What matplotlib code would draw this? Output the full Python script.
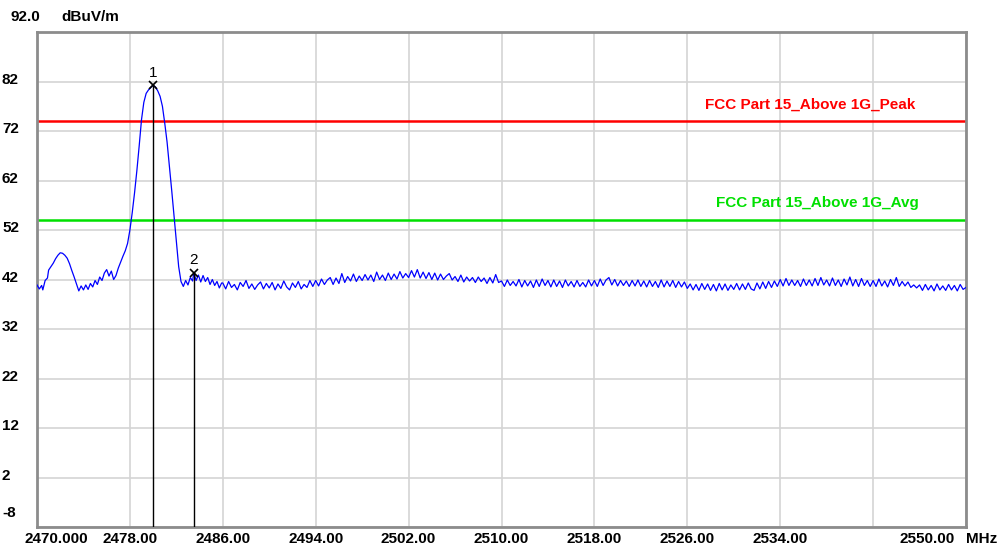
import numpy as np
import matplotlib
matplotlib.use("Agg")
import matplotlib.pyplot as plt
from matplotlib import transforms

plt.rcParams['font.family'] = ['Liberation Sans', 'DejaVu Sans']

# trace near the carrier (MHz, dBuV/m)
head_freq = [2470.0, 2470.2, 2470.4, 2470.5, 2470.7, 2470.9, 2471.0, 2471.2, 2471.4, 2471.6,
             2471.8, 2472.0, 2472.2, 2472.4, 2472.6, 2472.8, 2473.0, 2473.2, 2473.4, 2473.6,
             2473.8, 2474.0, 2474.2, 2474.4, 2474.6, 2474.8, 2475.0, 2475.2, 2475.4, 2475.6,
             2475.8, 2476.0, 2476.2, 2476.4, 2476.6, 2476.8, 2477.0, 2477.2, 2477.4, 2477.6,
             2477.8, 2478.0, 2478.2, 2478.4, 2478.6, 2478.8, 2479.0, 2479.2, 2479.4, 2479.6,
             2479.8, 2480.0, 2480.2, 2480.4, 2480.6, 2480.8, 2481.0, 2481.2, 2481.4, 2481.6,
             2481.8, 2482.0, 2482.2, 2482.4, 2482.6, 2482.8, 2483.0, 2483.2, 2483.4, 2483.5,
             2483.7, 2483.9, 2484.1, 2484.3, 2484.5, 2484.7, 2484.9, 2485.1, 2485.3, 2485.5,
             2485.7, 2485.9]
head_level = [40.9, 40.1, 40.8, 39.9, 41.8, 42.3, 43.9, 44.6, 45.3, 46.2,
              46.9, 47.4, 47.3, 46.9, 46.3, 45.2, 43.8, 42.5, 41.1, 39.7,
              40.7, 39.9, 40.9, 40.0, 41.2, 40.5, 41.8, 41.0, 42.5, 41.8,
              43.3, 44.0, 42.7, 43.7, 42.0, 42.8, 44.3, 45.5, 46.7, 47.8,
              49.3, 52.0, 55.5, 59.5, 64.0, 69.0, 74.3, 77.8, 79.6, 80.3,
              80.8, 81.2, 80.9, 80.1, 79.0, 77.0, 73.6, 69.8, 64.9, 60.0,
              54.8, 49.5, 44.6, 41.6, 40.6, 41.8, 40.9, 42.4, 41.7, 43.4,
              41.8, 42.9, 41.5, 42.8, 41.6, 42.4, 41.0, 42.0, 40.8, 41.6,
              40.3, 41.3]

# rest of the sweep, 2486 - 2550 MHz in 0.25 MHz steps
sweep_start, sweep_stop = 2486.0, 2550.0
sweep_level = [
    41.3, 40.1, 41.6, 40.4, 41.0, 39.9, 41.4, 40.6, 41.8, 40.2, 41.1, 40.0, 40.9, 41.5, 40.1, 41.2,
    40.3, 41.4, 39.9, 41.1, 40.2, 41.7, 40.5, 39.9, 41.3, 40.4, 41.6, 40.1, 41.0, 40.4, 41.8, 40.6,
    41.8, 40.7, 42.1, 41.0, 41.9, 42.4, 41.0, 42.3, 41.2, 43.2, 41.4, 42.6, 41.7, 43.1, 41.6, 42.7,
    41.8, 43.0, 41.9, 42.9, 41.6, 43.5, 42.0, 42.9, 41.8, 43.3, 42.0, 43.1, 42.1, 43.6, 42.3, 43.2,
    42.4, 43.8, 42.5, 44.0, 42.3, 43.5, 42.2, 43.4, 42.0, 43.3, 41.9, 43.1, 42.0, 42.7, 43.2, 41.9,
    42.6, 41.6, 42.9, 41.5, 42.5, 41.7, 42.4, 41.4, 42.5, 41.6, 42.3, 41.2, 42.4, 41.3, 43.0, 41.4,
    41.7, 40.6, 41.9, 40.8, 41.6, 40.7, 42.0, 40.5, 41.8, 40.7, 41.7, 40.4, 41.9, 40.6, 42.1, 40.8,
    41.8, 40.5, 41.9, 40.6, 41.7, 40.4, 41.9, 40.7, 41.6, 40.5, 41.8, 40.6, 41.4, 40.5, 41.9, 40.7,
    41.8, 40.6, 42.1, 40.8, 41.9, 42.4, 40.9, 42.0, 40.7, 41.8, 40.8, 41.7, 40.6, 41.8, 40.7, 41.9,
    40.6, 41.7, 40.5, 41.8, 40.6, 41.6, 40.4, 41.9, 40.5, 41.7, 40.6, 41.8, 40.4, 41.6, 40.5, 41.5,
    40.2, 41.1, 39.9, 41.0, 39.8, 41.2, 40.0, 41.1, 39.8, 41.0, 39.7, 41.2, 39.9, 41.1, 39.8, 40.9,
    40.0, 41.2, 39.9, 41.1, 40.0, 41.3, 40.1, 39.8, 41.3, 40.1, 41.5, 40.2, 41.6, 40.4, 41.7, 40.6,
    42.0, 40.7, 42.2, 40.8, 41.9, 40.8, 41.8, 40.6, 42.1, 40.8, 41.9, 40.7, 42.2, 40.8, 42.4, 40.9,
    41.9, 40.7, 42.3, 40.8, 41.9, 40.6, 42.1, 40.9, 42.5, 40.7, 42.0, 40.6, 42.2, 40.8, 41.8, 40.6,
    41.8, 40.6, 42.1, 40.7, 41.7, 40.5, 42.0, 40.8, 42.4, 40.6, 41.6, 40.7, 41.5, 40.4, 40.9, 40.3,
    40.9, 39.8, 41.0, 39.9, 40.8, 39.7, 41.1, 39.9, 40.7, 39.8, 41.0, 39.9, 40.8, 39.7, 41.0, 40.0,
    40.4]
sweep_freq = np.linspace(sweep_start, sweep_stop, len(sweep_level))

freq = np.concatenate([head_freq, sweep_freq])
level = np.concatenate([head_level, sweep_level])

# limit lines
limit_names = ['FCC Part 15_Above 1G_Peak', 'FCC Part 15_Above 1G_Avg']
limit_values = [74.0, 54.0]
limit_colors = ['#ff0000', '#00e000']
limit_text_x = [2536.6, 2537.2]

# markers
marker_ids = ['1', '2']
marker_freq = [2480.0, 2483.5]
marker_level = [81.2, 43.4]

xticks = [2470, 2478, 2486, 2494, 2502, 2510, 2518, 2526, 2534, 2542, 2550]
xlabels = ['2470.000', '2478.00', '2486.00', '2494.00', '2502.00', '2510.00',
           '2518.00', '2526.00', '2534.00', '', '2550.00']
yticks = [82, 72, 62, 52, 42, 32, 22, 12, 2, -8]

fs = 11

fig = plt.figure(figsize=(10, 5.5), dpi=100)
ax = fig.add_axes([0.037, 0.0418, 0.929, 0.9])
ax.set_xlim(2470, 2550)
ax.set_ylim(-8, 92)

ax.set_xticks(xticks)
ax.set_yticks(yticks)
ax.tick_params(length=0, labelbottom=False, labelleft=False)
ax.grid(True, color='#d4d4d4', lw=1.2)
ax.set_axisbelow(True)
for sp in ax.spines.values():
    sp.set_color('#8c8c8c')
    sp.set_linewidth(2)

# limit lines + names
for name, val, col, tx in zip(limit_names, limit_values, limit_colors, limit_text_x):
    ax.axhline(val, color=col, lw=1.8, zorder=2)
    ax.text(tx, val + 3.4, name, color=col, fontsize=fs, fontweight='bold',
            ha='center', va='center')

ax.plot(freq, level, color='#0000ff', lw=0.9, zorder=3)

# markers
for mid, mf, ml in zip(marker_ids, marker_freq, marker_level):
    ax.plot([mf, mf], [-8, ml], color='black', lw=1.0, zorder=4)
    ax.plot(mf, ml, marker='x', color='black', ms=6, mew=1.2, zorder=5)
    ax.text(mf, ml + 2.5, mid, fontsize=fs, ha='center', va='center', zorder=5)

# x labels below the frame
xlab_tr = transforms.blended_transform_factory(ax.transData, fig.transFigure)
for xt, lab in zip(xticks, xlabels):
    if not lab:
        continue
    tr = xlab_tr
    if xt == 2470:
        tr = transforms.offset_copy(xlab_tr, fig=fig, x=19, y=0, units='dots')
    elif xt == 2550:
        tr = transforms.offset_copy(xlab_tr, fig=fig, x=-39, y=0, units='dots')
    ax.text(xt, 0.02, lab, transform=tr, fontsize=fs, fontweight='bold',
            ha='center', va='center', clip_on=False)
fig.text(0.982, 0.02, 'MHz', fontsize=fs, fontweight='bold', ha='center', va='center')

# y labels on the left edge
ylab_tr = transforms.blended_transform_factory(fig.transFigure, ax.transData)
for yt in yticks:
    dy = 14 if yt == -8 else 2
    tr = transforms.offset_copy(ylab_tr, fig=fig, x=0, y=dy, units='dots')
    ax.text(0.002, yt, str(yt), transform=tr, fontsize=fs, fontweight='bold',
            ha='left', va='center', clip_on=False)

fig.text(0.025, 1 - 17 / 550, '92.0', fontsize=fs, fontweight='bold', ha='center', va='center')
fig.text(0.09, 1 - 17 / 550, 'dBuV/m', fontsize=fs, fontweight='bold', ha='center', va='center')

fig.savefig('out.png', dpi=100)
